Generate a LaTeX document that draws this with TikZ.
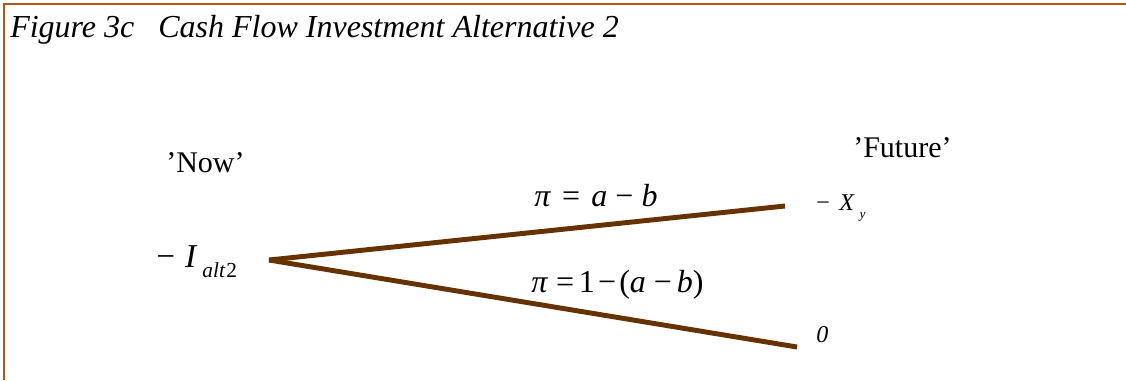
\documentclass[tikz,border=0pt]{standalone}
\usepackage{fontspec}
\setmainfont{Liberation Serif}
\usetikzlibrary{positioning}
\definecolor{framebrown}{RGB}{181,90,20}
\definecolor{branchbrown}{RGB}{102,51,0}
\newcommand{\mminus}{\char"2212}

\begin{document}
\begin{tikzpicture}[x=0.75pt,y=-0.75pt,
  every node/.style={inner sep=0pt,anchor=base west},
  branch/.style={line width=3.7pt,branchbrown},
  timetag/.style={font=\fontsize{22.5}{24}\selectfont},
  probtag/.style={font=\fontsize{24}{26}\selectfont}]
  \useasboundingbox (0,0) rectangle (1126,380);
  \draw[framebrown,line width=1.6pt] (4,380) -- (4,4) -- (1126,4);
  \node[font=\fontsize{24}{27}\selectfont\itshape] (title) at (10,37)
    {Figure 3c\hspace{0.5em} Cash Flow Investment Alternative 2};
  \node[timetag] (now) at (166,172) {'Now'};
  \node[timetag] (future) at (853,157) {'Future'};
  \node[font=\fontsize{25}{27}\selectfont] (invest) at (156,267)
    {\mminus\hspace{0.3em}\textit{I}\hspace{0.15em}\raisebox{-7.5pt}{\fontsize{16}{18}\selectfont\textit{alt}\hspace{0.05em}2}};
  \node[font=\fontsize{18}{20}\selectfont] (loss) at (816,210)
    {\mminus\hspace{0.4em}\textit{X}\hspace{0.2em}\raisebox{-6pt}{\fontsize{10}{11}\selectfont\textit{y}}};
  \node[font=\fontsize{18}{20}\selectfont\itshape] (zero) at (816,342) {0};
  \coordinate (fork) at (269,260);
  \coordinate (upend) at (785,206);
  \coordinate (downend) at (797,347);
  \draw[branch] (fork) -- (upend);
  \draw[branch] (fork) -- (downend);
  \node[probtag] (pup) at (534,206)
    {\textit{π}\hspace{0.35em}=\hspace{0.35em}\textit{a}\hspace{0.25em}\mminus\hspace{0.25em}\textit{b}};
  \node[probtag] (pdown) at (531,292)
    {\textit{π}\hspace{0.25em}=\hspace{0.15em}1\hspace{0.1em}\mminus\hspace{0.1em}(\textit{a}\hspace{0.25em}\mminus\hspace{0.15em}\textit{b})};
\end{tikzpicture}
\end{document}
